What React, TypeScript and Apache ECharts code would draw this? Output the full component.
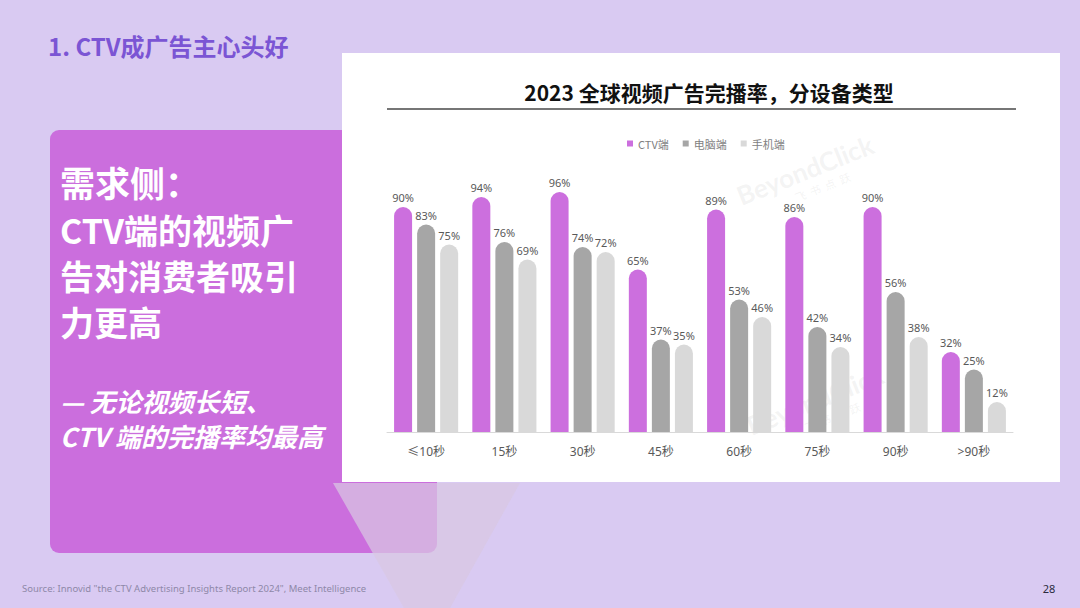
import React, { useEffect, useRef } from "react";
import * as echarts from "echarts";

const categories = ["≤10秒", "15秒", "30秒", "45秒", "60秒", "75秒", "90秒", ">90秒"];
const seriesNames = ["CTV端", "电脑端", "手机端"];
const ctvValues = [90, 94, 96, 65, 89, 86, 90, 32];
const pcValues = [83, 76, 74, 37, 53, 42, 56, 25];
const mobileValues = [75, 69, 72, 35, 46, 34, 38, 12];
const seriesColors = ["#CC6FDE", "#A6A6A6", "#D9D9D9"];

const pageTitle = "1. CTV成广告主心头好";
const chartTitle = "2023 全球视频广告完播率，分设备类型";
const panelHead = "需求侧：";
const panelLines = ["CTV端的视频广", "告对消费者吸引", "力更高"];
const panelSubLines = ["— 无论视频长短、", "CTV 端的完播率均最高"];
const sourceText = "Source: Innovid \"the CTV Advertising Insights Report 2024\", Meet Intelligence";
const pageNumber = "28";

const CJK = "'Noto Sans CJK SC', 'Noto Sans', sans-serif";

export default function App() {
  const ref = useRef<HTMLDivElement>(null);
  useEffect(() => {
    if (!ref.current) return;
    const chart = echarts.init(ref.current, null, { renderer: "svg" });
    const values = [ctvValues, pcValues, mobileValues];

    const watermark = (x: number, y: number) => ({
      type: "group",
      x,
      y,
      rotation: 0.38,
      z: 100,
      silent: true,
      children: [
        {
          type: "text",
          x: 0,
          y: 0,
          style: {
            text: "BeyondClick",
            fontSize: 26,
            fontWeight: "bold",
            fontFamily: "Lato, sans-serif",
            fill: "rgba(170,170,170,0.14)",
            textAlign: "center",
            textVerticalAlign: "middle",
          },
        },
        {
          type: "text",
          x: 10,
          y: 22,
          style: {
            text: "飞  书  点  跃",
            fontSize: 11,
            fontFamily: CJK,
            fill: "rgba(170,170,170,0.14)",
            textAlign: "center",
            textVerticalAlign: "middle",
          },
        },
      ],
    });

    const option: any = {
      animation: false,
      backgroundColor: "#D9CAF2",
      grid: { left: 387, right: 67, top: 182, bottom: 176, containLabel: false },
      legend: {
        data: seriesNames,
        left: 622,
        top: 133,
        icon: "rect",
        itemWidth: 6,
        itemHeight: 6,
        itemGap: 14,
        textStyle: { fontSize: 11, color: "#7F7F7F", fontFamily: CJK },
      },
      xAxis: {
        type: "category",
        data: categories,
        axisLine: { lineStyle: { color: "#D9D9D9", width: 1 } },
        axisTick: { show: false },
        axisLabel: { color: "#595959", fontSize: 12, margin: 13, fontFamily: "'Noto Sans', " + CJK },
      },
      yAxis: { type: "value", min: 0, max: 100, show: false, splitLine: { show: false } },
      graphic: [
        {
          type: "text",
          x: 48,
          y: 45,
          z: -5,
          style: {
            text: pageTitle,
            fontSize: 24,
            fontWeight: "bold",
            fontFamily: CJK,
            fill: "#7B55D4",
            textVerticalAlign: "middle",
          },
        },
        {
          type: "rect",
          z: -10,
          shape: { x: 50, y: 130, width: 387, height: 423, r: 9 },
          style: { fill: "#CB6EDD" },
        },
        {
          type: "rect",
          z: -8,
          shape: { x: 342, y: 53, width: 718, height: 429 },
          style: { fill: "#FFFFFF" },
        },
        {
          type: "polygon",
          z: -7,
          shape: { points: [[333, 483], [520, 483], [450, 608], [404, 608]] },
          style: { fill: "rgba(216,200,226,0.72)" },
        },
        {
          type: "text",
          x: 709,
          y: 92,
          z: -5,
          style: {
            text: chartTitle,
            fontSize: 21,
            fontWeight: "bold",
            fontFamily: CJK,
            fill: "#111111",
            textAlign: "center",
            textVerticalAlign: "middle",
          },
        },
        {
          type: "line",
          z: -5,
          shape: { x1: 387, y1: 109, x2: 1016, y2: 109 },
          style: { stroke: "#767676", lineWidth: 2 },
        },
        {
          type: "text",
          x: 60,
          y: 181,
          z: -5,
          style: {
            text: panelHead,
            fontSize: 35,
            fontWeight: "bold",
            fontFamily: CJK,
            fill: "#FFFFFF",
            textVerticalAlign: "middle",
          },
        },
        {
          type: "text",
          x: 60,
          y: 275,
          z: -5,
          style: {
            text: panelLines.join("\n"),
            fontSize: 34,
            lineHeight: 46,
            fontWeight: "bold",
            fontFamily: CJK,
            fill: "#FFFFFF",
            textVerticalAlign: "middle",
          },
        },
        {
          type: "text",
          x: 60,
          y: 418,
          z: -5,
          style: {
            text: panelSubLines.join("\n"),
            fontSize: 26,
            lineHeight: 35,
            fontWeight: "bold",
            fontStyle: "italic",
            fontFamily: CJK,
            fill: "#FFFFFF",
            textVerticalAlign: "middle",
          },
        },
        {
          type: "text",
          x: 22,
          y: 588,
          z: -5,
          style: {
            text: sourceText,
            fontSize: 9.5,
            fontFamily: "'Noto Sans', sans-serif",
            fill: "#8E88A8",
            textVerticalAlign: "middle",
          },
        },
        {
          type: "text",
          x: 1049,
          y: 588,
          z: -5,
          style: {
            text: pageNumber,
            fontSize: 11,
            fontFamily: "'Noto Sans', sans-serif",
            fill: "#2A2A40",
            textAlign: "center",
            textVerticalAlign: "middle",
          },
        },
        watermark(805, 170),
        watermark(815, 400),
      ],
      series: seriesNames.map((name, i) => ({
        name,
        type: "bar",
        data: values[i],
        barWidth: 18,
        barGap: "28%",
        itemStyle: { color: seriesColors[i], borderRadius: [9, 9, 0, 0] },
        label: {
          show: true,
          position: "top",
          distance: 4,
          formatter: "{c}%",
          color: "#595959",
          fontSize: 11,
          fontFamily: "'Noto Sans', sans-serif",
        },
      })),
    };
    chart.setOption(option);
    return () => chart.dispose();
  }, []);
  return (
    <div
      ref={ref}
      style={{ position: "absolute", left: 0, top: 0, width: 1080, height: 608 }}
    />
  );
}
